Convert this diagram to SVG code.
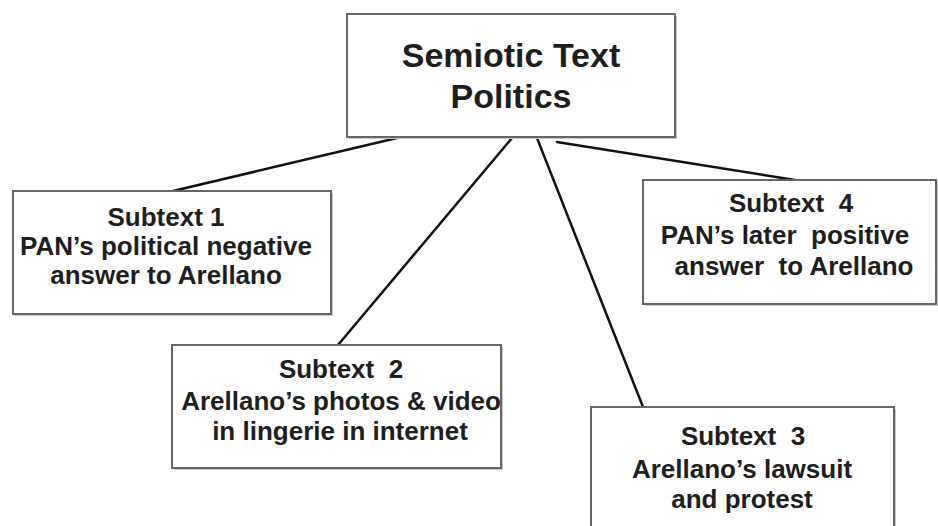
<svg xmlns="http://www.w3.org/2000/svg" width="938" height="526" viewBox="0 0 938 526">
<style>
.box{fill:#ffffff;stroke:#666666;stroke-width:2}
.shadow{fill:#c8c8c8}
.t{font-family:"Liberation Sans",Arial,sans-serif;font-weight:bold;fill:#1e1e1e;text-anchor:middle}
.title{font-size:34px}
.sub{font-size:26px}
.conn line{stroke:#111111;stroke-width:2.5;stroke-linecap:round}
</style>
<rect width="938" height="526" fill="#ffffff"/>
<g id="connectors" class="conn">
<line x1="397" y1="138" x2="173" y2="191"/>
<line x1="512" y1="138" x2="338" y2="345"/>
<line x1="537" y1="138" x2="643" y2="407"/>
<line x1="557" y1="142" x2="795" y2="180"/>
</g>
<g id="root">
<rect class="shadow" x="349" y="16" width="328" height="123"/>
<rect class="box" x="347" y="14" width="328" height="123"/>
<text class="t title" x="511" y="67">Semiotic Text</text>
<text class="t title" x="511" y="108">Politics</text>
</g>
<g id="subtext1">
<rect class="shadow" x="15" y="193" width="318" height="123"/>
<rect class="box" x="13" y="191" width="318" height="123"/>
<text class="t sub" x="166" y="226">Subtext 1</text>
<text class="t sub" x="166" y="255">PAN’s political negative</text>
<text class="t sub" x="166" y="284">answer to Arellano</text>
</g>
<g id="subtext4">
<rect class="shadow" x="645" y="182" width="293" height="124"/>
<rect class="box" x="643" y="180" width="293" height="124"/>
<text class="t sub" x="791" y="212" xml:space="preserve">Subtext  4</text>
<text class="t sub" x="785" y="244" xml:space="preserve">PAN’s later  positive</text>
<text class="t sub" x="794" y="275" xml:space="preserve">answer  to Arellano</text>
</g>
<g id="subtext2">
<rect class="shadow" x="174" y="347" width="329" height="123"/>
<rect class="box" x="172" y="345" width="329" height="123"/>
<text class="t sub" x="341" y="378" xml:space="preserve">Subtext  2</text>
<text class="t sub" x="341" y="410">Arellano’s photos &amp; video</text>
<text class="t sub" x="340" y="440">in lingerie in internet</text>
</g>
<g id="subtext3">
<rect class="shadow" x="593" y="409" width="303" height="130"/>
<rect class="box" x="591" y="407" width="303" height="130"/>
<text class="t sub" x="743" y="445" xml:space="preserve">Subtext  3</text>
<text class="t sub" x="742" y="478">Arellano’s lawsuit</text>
<text class="t sub" x="742" y="508">and protest</text>
</g>
</svg>
